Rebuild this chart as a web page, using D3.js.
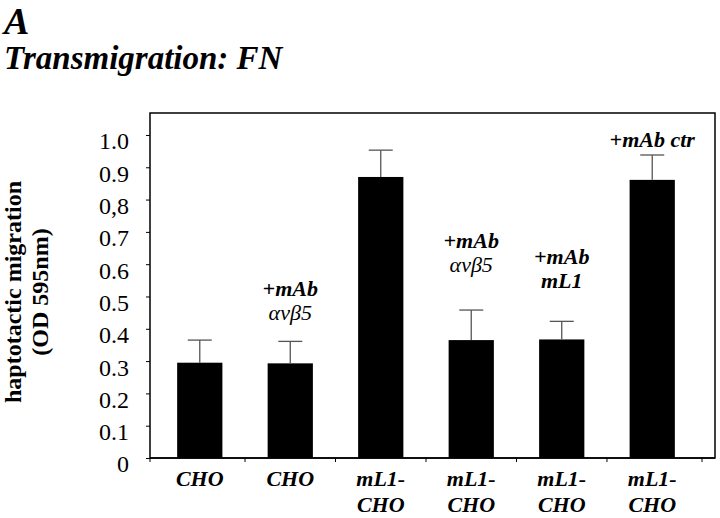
<!DOCTYPE html>
<html>
<head>
<meta charset="utf-8">
<script src="https://cdn.jsdelivr.net/npm/d3@7"></script>
<style>
  body { margin: 0; background: #fff; }
  text { font-family: "Liberation Serif", "Times New Roman", serif; }
</style>
</head>
<body>
<div id="chart"></div>
<script>
// data
const categories = [["CHO"], ["CHO"], ["mL1-", "CHO"], ["mL1-", "CHO"], ["mL1-", "CHO"], ["mL1-", "CHO"]];
const means = [0.295, 0.293, 0.870, 0.365, 0.367, 0.861];
const errors = [0.070, 0.068, 0.083, 0.093, 0.056, 0.077];
const treatments = [[], ["+mAb", "αvβ5"], [], ["+mAb", "αvβ5"], ["+mAb", "mL1"], ["+mAb ctr"]];
const yTicks = [0, 0.1, 0.2, 0.3, 0.4, 0.5, 0.6, 0.7, 0.8, 0.9, 1.0];
const yTickLabels = ["0", "0.1", "0.2", "0.3", "0.4", "0.5", "0.6", "0.7", "0,8", "0.9", "1.0"];

const width = 720, height = 518;
let margin = ({top: 113, right: 5, bottom: 60, left: 150});
// extra lift (px) of each treatment note above its error bar
const noteLift = [0, 21, 0, 38, 33, 8];

const data = means.map((m, i) => ({i: i, mean: m, err: errors[i], cat: categories[i], note: treatments[i]}));

const svg = d3.select("#chart").append("svg")
    .attr("width", width)
    .attr("height", height)
    .attr("font-family", "Liberation Serif")
    .style("background", "#fff");

let x = d3.scaleBand()
    .domain(d3.range(data.length))
    .range([margin.left, 702])
    .paddingInner(0.5)
    .paddingOuter(0.3);

let y = d3.scaleLinear()
    .domain([0, 1.068])
    .range([height - margin.bottom, margin.top]);

// headings
svg.append("text")
    .attr("x", 4).attr("y", 34)
    .style("font-size", "38px").style("font-weight", "bold").style("font-style", "italic")
    .text("A");
svg.append("text")
    .attr("x", 4).attr("y", 69)
    .style("font-size", "33px").style("font-weight", "bold").style("font-style", "italic")
    .text("Transmigration: FN");

// frame
svg.append("rect")
    .attr("x", margin.left)
    .attr("y", margin.top)
    .attr("width", width - margin.right - margin.left)
    .attr("height", height - margin.bottom - margin.top)
    .attr("fill", "none")
    .attr("stroke", "#000")
    .attr("stroke-width", 1.5);

// y axis
const yAxis = svg.append("g")
    .attr("transform", `translate(${margin.left},0)`)
    .call(d3.axisLeft(y)
      .tickValues(yTicks)
      .tickSize(4)
      .tickPadding(17)
      .tickFormat((d, i) => yTickLabels[i]));
yAxis.select(".domain").remove();
yAxis.selectAll("line").attr("stroke", "#000");
yAxis.selectAll("text")
    .attr("dy", "0.58em")
    .style("font-size", "24px")
    .style("font-family", "Liberation Serif")
    .attr("fill", "#000");

// y title
const yTitle = svg.append("text")
    .attr("transform", `translate(0,292) rotate(-90)`)
    .attr("text-anchor", "middle")
    .style("font-size", "24px").style("font-weight", "bold");
yTitle.append("tspan").attr("x", 0).attr("y", 21).text("haptotactic migration");
yTitle.append("tspan").attr("x", 0).attr("y", 48).text("(OD 595nm)");

// x axis line and ticks at the gaps between bars
const baseY = y(0);
svg.append("line")
    .attr("x1", margin.left).attr("x2", width - margin.right)
    .attr("y1", baseY).attr("y2", baseY)
    .attr("stroke", "#000").attr("stroke-width", 1.5);
const step = x.step();
const tickXs = [margin.left].concat(d3.range(data.length - 1).map(i => x(i) + x.bandwidth() / 2 + step / 2), [x.range()[1]]);
svg.append("g").selectAll("line")
    .data(tickXs)
    .enter().append("line")
      .attr("x1", d => d).attr("x2", d => d)
      .attr("y1", baseY).attr("y2", baseY + 4)
      .attr("stroke", "#000");

// bars
svg.append("g")
    .selectAll("rect")
    .data(data)
    .enter().append("rect")
      .attr("x", d => x(d.i))
      .attr("y", d => y(d.mean))
      .attr("width", x.bandwidth())
      .attr("height", d => y(0) - y(d.mean))
      .attr("fill", "#000");

// error bars (upper only)
const eb = svg.append("g").attr("stroke", "#555").attr("stroke-width", 1.3);
data.forEach(d => {
  const cx = x(d.i) + x.bandwidth() / 2;
  eb.append("line")
    .attr("x1", cx).attr("x2", cx)
    .attr("y1", y(d.mean)).attr("y2", y(d.mean + d.err));
  eb.append("line")
    .attr("x1", cx - 12).attr("x2", cx + 12)
    .attr("y1", y(d.mean + d.err)).attr("y2", y(d.mean + d.err));
});

// treatment notes above bars
data.forEach(d => {
  if (!d.note.length) return;
  const cx = x(d.i) + x.bandwidth() / 2;
  const bottom = y(d.mean + d.err) - noteLift[d.i];
  const n = d.note.length;
  d.note.forEach((t, k) => {
    svg.append("text")
      .attr("x", cx)
      .attr("y", bottom - (n - 1 - k) * 24)
      .attr("text-anchor", "middle")
      .style("font-size", "22px")
      .style("font-style", "italic")
      .style("font-weight", t.startsWith("α") ? "normal" : "bold")
      .text(t);
  });
});

// category labels
data.forEach(d => {
  const cx = x(d.i) + x.bandwidth() / 2;
  d.cat.forEach((t, k) => {
    svg.append("text")
      .attr("x", cx)
      .attr("y", 486 + k * 26)
      .attr("text-anchor", "middle")
      .style("font-size", "22px")
      .style("font-style", "italic")
      .style("font-weight", "bold")
      .text(t);
  });
});
</script>
</body>
</html>
